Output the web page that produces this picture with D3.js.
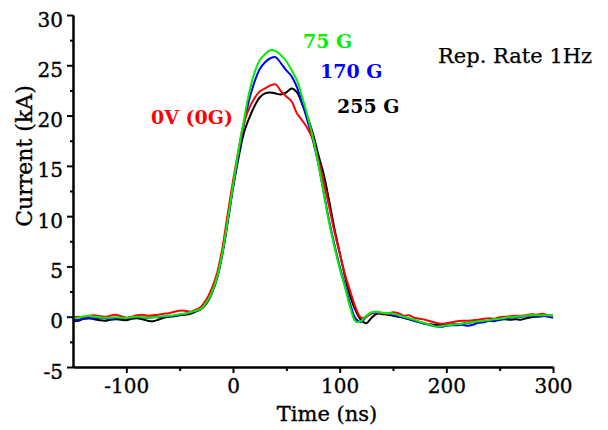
<!DOCTYPE html>
<html>
<head>
<meta charset="utf-8">
<script src="https://cdn.jsdelivr.net/npm/d3@7"></script>
<style>
  body { margin: 0; background: #fff; }
  svg { display: block; }
  text { font-family: "DejaVu Serif", serif; }
</style>
</head>
<body>
<svg id="chart" width="608" height="430"></svg>
<script>
// time base (ns) shared by every trace
const times = [-150, -145, -140, -135, -130, -125, -120, -115, -110, -105, -100, -95, -90, -85, -80, -75, -70, -65, -60, -55, -50, -45, -40, -35, -30, -25, -20, -15, -10, -5,
  0, 5, 10, 15, 20, 25, 30, 35, 40, 45, 50, 55, 60, 65, 70, 75, 80, 85, 90, 95, 100, 105, 110, 115, 120, 125, 130, 135, 140, 145,
  150, 155, 160, 165, 170, 175, 180, 185, 190, 195, 200, 205, 210, 215, 220, 225, 230, 235, 240, 245, 250, 255, 260, 265, 270, 275, 280, 285, 290, 295, 300];

// current (kA)
const current0G = [-0.1, 0.0, -0.05, 0.1, 0.15, 0.05, 0.0, 0.1, 0.2, 0.05, -0.1, 0.0, 0.15, 0.2, 0.1, 0.15, 0.2, 0.3, 0.35, 0.5, 0.6, 0.6, 0.5, 0.7, 1.0, 1.7, 2.8, 4.3, 6.8, 10.2,
  13.5, 16.5, 19.2, 20.7, 21.7, 22.4, 22.7, 23.0, 23.1, 22.4, 21.9, 21.4, 20.2, 19.5, 18.7, 17.6, 15.6, 13.4, 11.0, 8.5, 6.3, 4.2, 2.5, 0.9, -0.1, 0.0, 0.4, 0.45, 0.35, 0.3,
  0.45, 0.35, 0.1, 0.15, -0.1, -0.2, -0.3, -0.45, -0.6, -0.7, -0.65, -0.55, -0.45, -0.4, -0.4, -0.35, -0.3, -0.2, -0.15, -0.2, -0.05, 0.0, 0.05, 0.1, 0.1, 0.15, 0.25, 0.2, 0.3, 0.15, 0.1];

const current75G = [-0.15, -0.1, 0.05, 0.1, 0.0, -0.05, -0.1, -0.1, -0.05, -0.1, -0.1, -0.05, 0.0, -0.05, -0.1, -0.05, 0.0, 0.05, 0.1, 0.15, 0.25, 0.3, 0.45, 0.6, 0.8, 1.4, 2.4, 3.9, 6.3, 9.6,
  13.0, 16.4, 19.4, 22.2, 24.2, 25.5, 26.1, 26.5, 26.4, 26.0, 25.4, 24.5, 23.5, 21.8, 19.9, 17.8, 15.2, 12.3, 9.4, 7.0, 4.8, 2.9, 0.9, -0.5, -0.45, 0.1, 0.45, 0.5, 0.4, 0.35,
  0.3, 0.15, 0.0, -0.15, -0.3, -0.5, -0.65, -0.8, -1.0, -0.95, -0.85, -0.8, -0.75, -0.7, -0.6, -0.55, -0.45, -0.4, -0.35, -0.25, -0.2, -0.1, -0.05, 0.0, 0.05, 0.1, 0.15, 0.15, 0.15, 0.15, 0.1];

const current170G = [-0.35, -0.3, -0.2, -0.15, -0.15, -0.1, -0.15, -0.2, -0.15, -0.1, -0.15, -0.1, -0.05, -0.1, -0.1, -0.05, -0.05, 0.0, 0.05, 0.1, 0.2, 0.3, 0.4, 0.55, 0.8, 1.4, 2.4, 3.9, 6.3, 9.5,
  12.9, 16.0, 19.0, 21.5, 23.3, 24.6, 25.3, 25.7, 25.8, 25.2, 24.5, 23.9, 22.8, 21.2, 19.4, 17.5, 15.2, 12.4, 9.6, 7.2, 5.0, 3.1, 1.2, -0.2, -0.55, 0.0, 0.35, 0.4, 0.35, 0.3,
  0.2, 0.05, -0.1, -0.2, -0.4, -0.55, -0.7, -0.85, -0.95, -1.0, -0.9, -0.85, -0.85, -0.8, -0.9, -0.8, -0.6, -0.55, -0.4, -0.45, -0.3, -0.2, -0.1, -0.05, 0.0, 0.05, 0.1, 0.05, 0.1, 0.0, -0.1];

const current255G = [-0.45, -0.4, -0.2, -0.15, -0.25, -0.35, -0.4, -0.3, -0.25, -0.3, -0.35, -0.2, -0.15, -0.25, -0.4, -0.45, -0.3, -0.1, 0.0, 0.05, 0.15, 0.2, 0.3, 0.5, 0.75, 1.3, 2.3, 3.8, 6.2, 9.4,
  12.8, 15.7, 18.2, 19.7, 20.9, 21.8, 22.2, 22.3, 22.2, 22.1, 22.3, 22.7, 22.3, 21.1, 19.8, 18.2, 16.1, 14.2, 11.6, 8.8, 6.4, 4.0, 2.0, 0.6, -0.3, -0.65, -0.1, 0.3, 0.25, 0.2,
  0.1, 0.0, -0.1, -0.25, -0.4, -0.55, -0.7, -0.75, -0.8, -0.8, -0.8, -0.75, -0.75, -0.7, -0.6, -0.55, -0.55, -0.5, -0.4, -0.35, -0.3, -0.25, -0.3, -0.25, -0.3, -0.15, -0.05, 0.0, 0.05, 0.1, 0.1];

const seriesNames = ['255 G', '170 G', '0V (0G)', '75 G'];
const seriesValues = [current255G, current170G, current0G, current75G];
const seriesColors = ['#000000', '#0000ff', '#ff0000', '#00ee00'];

const xMajorTicks = [-100, 0, 100, 200, 300];
const xMinorTicks = [-50, 50, 150, 250];
const yMajorTicks = [-5, 0, 5, 10, 15, 20, 25, 30];
const yMinorTicks = [-2.5, 2.5, 7.5, 12.5, 17.5, 22.5, 27.5];

const svg = d3.select('#chart');

const x = d3.scaleLinear().domain([-150, 300]).range([73, 553]);
const y = d3.scaleLinear().domain([-5, 30]).range([367, 15]);

const line = d3.line()
  .x((d) => x(d[0]))
  .y((d) => y(d[1]))
  .curve(d3.curveCatmullRom.alpha(0.5));

// traces
svg.append('g')
  .selectAll('path')
  .data(seriesValues)
  .enter()
  .append('path')
  .attr('fill', 'none')
  .attr('stroke', (d, i) => seriesColors[i])
  .attr('stroke-width', 2)
  .attr('stroke-linejoin', 'round')
  .attr('d', (vals) => line(times.map((t, i) => [t, vals[i]])));

// axes
const plainNumber = (d) => String(d);

const styleAxis = (g) => {
  g.selectAll('path, line').attr('stroke', '#000').attr('stroke-width', 2);
  g.selectAll('text')
    .attr('font-family', '"DejaVu Serif", serif')
    .attr('font-size', 20)
    .attr('fill', '#000')
    .attr('stroke', '#000')
    .attr('stroke-width', 0.35);
};

svg.append('g')
  .attr('transform', `translate(0,${y(-5)})`)
  .call(d3.axisBottom(x).tickValues(xMinorTicks).tickSize(4).tickSizeOuter(0).tickFormat(''))
  .call(styleAxis);

svg.append('g')
  .attr('transform', `translate(0,${y(-5)})`)
  .call(d3.axisBottom(x).tickValues(xMajorTicks).tickSize(6).tickSizeOuter(0).tickPadding(6).tickFormat(plainNumber))
  .call(styleAxis)
  .call((g) => g.selectAll('text').attr('dy', '0.71em'));

svg.append('g')
  .attr('transform', `translate(${x(-150)},0)`)
  .call(d3.axisLeft(y).tickValues(yMinorTicks).tickSize(3).tickSizeOuter(0).tickFormat(''))
  .call(styleAxis);

svg.append('g')
  .attr('transform', `translate(${x(-150)},0)`)
  .call(d3.axisLeft(y).tickValues(yMajorTicks).tickSize(6).tickSizeOuter(0).tickPadding(4).tickFormat(plainNumber))
  .call(styleAxis)
  .call((g) => g.selectAll('text').attr('dy', '0.55em'));

// axis titles
svg.append('text')
  .attr('x', 327).attr('y', 421)
  .attr('text-anchor', 'middle')
  .attr('font-size', 21)
  .attr('stroke', '#000').attr('stroke-width', 0.35)
  .text('Time (ns)');

svg.append('text')
  .attr('transform', 'translate(32,156) rotate(-90)')
  .attr('text-anchor', 'middle')
  .attr('font-size', 22)
  .attr('stroke', '#000').attr('stroke-width', 0.35)
  .text('Current (kA)');

// labels
const labelPos = [[337, 113], [320, 78], [151, 124], [303, 48]];
svg.append('g')
  .selectAll('text')
  .data(seriesNames)
  .enter()
  .append('text')
  .attr('x', (d, i) => labelPos[i][0])
  .attr('y', (d, i) => labelPos[i][1])
  .attr('font-size', 19)
  .attr('font-weight', 'bold')
  .attr('fill', (d, i) => seriesColors[i])
  .text((d) => d);

svg.append('text')
  .attr('x', 438).attr('y', 63)
  .attr('font-size', 21)
  .attr('stroke', '#000').attr('stroke-width', 0.25)
  .text('Rep. Rate 1Hz');
</script>
</body>
</html>
